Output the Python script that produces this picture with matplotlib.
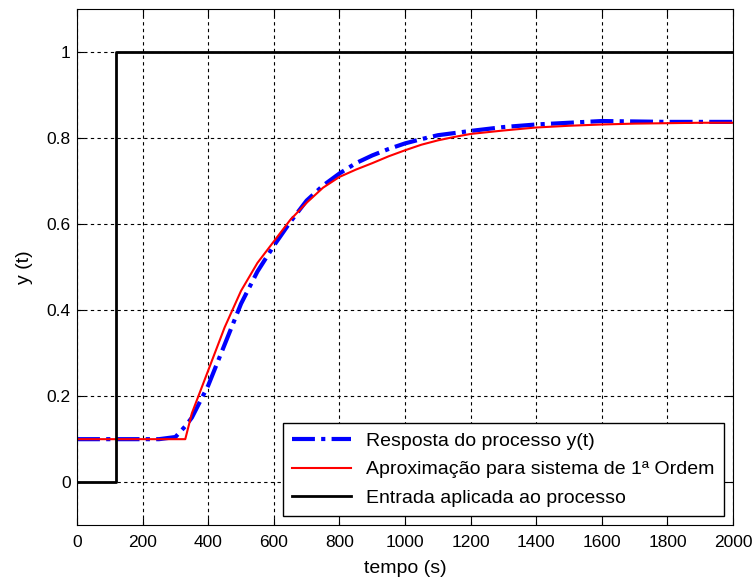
import matplotlib.pyplot as plt

plt.rcParams['font.family'] = ['Liberation Sans', 'DejaVu Sans']

# Step input applied to the process
t_in = [0, 120, 120, 2000]
y_in = [0, 0, 1, 1]

# Measured process response y(t)
t_proc = [0, 250, 300, 330, 350, 400, 450, 500, 550, 600, 650, 700, 750, 800,
          850, 900, 950, 1000, 1050, 1100, 1150, 1200, 1300, 1400, 1500, 1600,
          1700, 1800, 1900, 2000]
y_proc = [0.1, 0.1, 0.105, 0.13, 0.15, 0.225, 0.32, 0.415, 0.49, 0.55, 0.605,
          0.655, 0.69, 0.718, 0.742, 0.76, 0.775, 0.788, 0.798, 0.807, 0.812,
          0.817, 0.826, 0.832, 0.836, 0.84, 0.839, 0.838, 0.838, 0.838]

# First-order approximation
t_fit = [0, 330, 350, 400, 450, 500, 550, 600, 650, 700, 750, 800, 850, 900,
         950, 1000, 1050, 1100, 1150, 1200, 1300, 1400, 1500, 1600, 1700,
         1800, 1900, 2000]
y_fit = [0.1, 0.1, 0.16, 0.26, 0.36, 0.445, 0.51, 0.56, 0.61, 0.65, 0.685,
         0.71, 0.727, 0.742, 0.758, 0.772, 0.785, 0.795, 0.803, 0.81, 0.818,
         0.825, 0.829, 0.832, 0.834, 0.835, 0.836, 0.836]

fig = plt.figure(figsize=(7.55, 5.79), dpi=100)
ax = fig.add_axes([0.102, 0.093, 0.869, 0.891])

ax.plot(t_proc, y_proc, color='blue', linewidth=3, dashes=(5.5, 1.5, 1, 1.5),
        label='Resposta do processo y(t)')
ax.plot(t_fit, y_fit, color='red', linewidth=1.5,
        label='Aproximação para sistema de 1ª Ordem')
ax.plot(t_in, y_in, color='black', linewidth=2,
        label='Entrada aplicada ao processo')

ax.set_xlim(0, 2000)
ax.set_ylim(-0.1, 1.1)
ax.set_xticks(range(0, 2001, 200))
ax.set_yticks([0, 0.2, 0.4, 0.6, 0.8, 1])
ax.set_yticklabels(['0', '0.2', '0.4', '0.6', '0.8', '1'])
ax.grid(True, color='black', linestyle=(0, (3, 3)), linewidth=0.8)
ax.tick_params(direction='in', top=True, right=True, labelsize=12.5, length=5)
ax.tick_params(axis='x', pad=7)
ax.tick_params(axis='y', pad=4.5)
ax.set_xlabel('tempo (s)', fontsize=14, labelpad=7)
ax.set_ylabel('y (t)', fontsize=14, labelpad=10)

leg = ax.legend(loc='lower right', fontsize=14, fancybox=False, framealpha=1,
                edgecolor='black', handlelength=3.0, borderaxespad=0.45,
                labelspacing=0.55, borderpad=0.5)
leg.get_frame().set_linewidth(1)

fig.savefig('out.png', dpi=100)
